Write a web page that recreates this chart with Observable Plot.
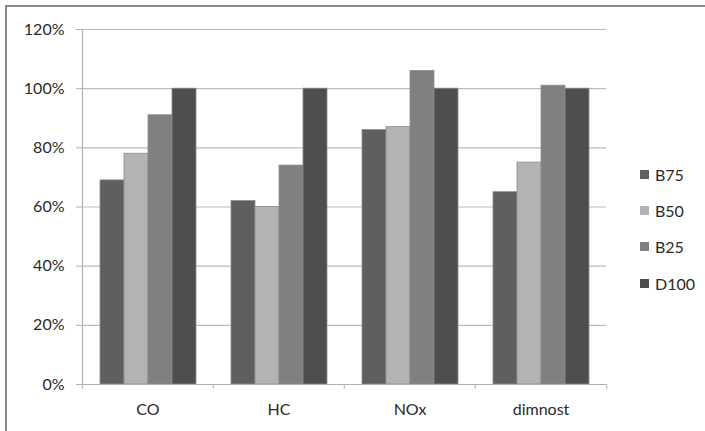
<!DOCTYPE html>
<html>
<head>
<meta charset="utf-8">
<script src="https://cdn.jsdelivr.net/npm/d3@7"></script>
<script src="https://cdn.jsdelivr.net/npm/@observablehq/plot@0.6"></script>
<style>
  html, body { margin: 0; padding: 0; background: #fff; }
  #wrap { position: relative; width: 705px; height: 431px; overflow: hidden; font-family: Lato, "Open Sans", sans-serif; }
  #border { position: absolute; left: 5px; top: 5px; width: 710px; height: 440px; border-top: 2px solid #8a8a8a; border-left: 2px solid #8a8a8a; box-sizing: border-box; pointer-events: none; z-index: 5; }
  #legend { position: absolute; left: 640px; top: 156px; }
  .row { display: flex; align-items: center; height: 36.3px; font-size: 16px; color: #2a2a2a; }
  .sw { width: 9px; height: 9px; margin-right: 6px; }
  svg { display: block; }
</style>
</head>
<body>
<div id="wrap">
  <div id="chart"></div>
  <div id="legend"></div>
  <div id="border"></div>
</div>
<script>
const categories = ["CO", "HC", "NOx", "dimnost"];
const seriesNames = ["B75", "B50", "B25", "D100"];
const B75 = [0.69, 0.62, 0.86, 0.65];
const B50 = [0.78, 0.60, 0.87, 0.75];
const B25 = [0.91, 0.74, 1.06, 1.01];
const D100 = [1.00, 1.00, 1.00, 1.00];
const yTicks = [0, 0.2, 0.4, 0.6, 0.8, 1.0, 1.2];
const colors = ["#5f5f5f", "#b3b3b3", "#808080", "#4e4e4e"];

const seriesValues = [B75, B50, B25, D100];
const data = [];
categories.forEach((c, i) => {
  seriesNames.forEach((s, j) => data.push({cat: c, series: s, value: seriesValues[j][i]}));
});

const W = 705, H = 431, mL = 81, mR = 98;
const band = (W - mL - mR) / categories.length;
const font = "Lato, 'Open Sans', sans-serif";

const chart = Plot.plot({
  width: W,
  height: H,
  marginLeft: mL,
  marginRight: mR,
  marginTop: 29,
  marginBottom: 47,
  style: {fontFamily: font, fontSize: "16px", color: "#2a2a2a", background: "transparent"},
  fx: {domain: categories, padding: 0, axis: null},
  x: {domain: seriesNames, paddingInner: 0, paddingOuter: 0.72, axis: null},
  y: {domain: [0, 1.2], axis: null},
  color: {domain: seriesNames, range: colors},
  marks: [
    Plot.gridY(yTicks, {stroke: "#bcbcbc", strokeOpacity: 1, strokeWidth: 1.2}),
    Plot.barY(data, {fx: "cat", x: "series", y: "value", fill: "series", stroke: "#8c8c8c", strokeWidth: 0.8, inset: 0}),
    Plot.ruleY([0], {stroke: "#b0b0b0", strokeWidth: 1.2}),
    Plot.frame({anchor: "left", facetAnchor: "left", stroke: "#b0b0b0", strokeWidth: 1.2}),
    Plot.axisY({ticks: yTicks, tickFormat: d3.format(".0%"), tickSize: 6, tickPadding: 12, stroke: "#b0b0b0", label: null, fontSize: 16}),
    Plot.axisFx({anchor: "bottom", tickSize: 0, tickPadding: 19, label: null, fontSize: 16}),
    Plot.axisFx({anchor: "bottom", tickSize: 5, text: null, label: null, dx: -band / 2, stroke: "#b0b0b0"}),
    Plot.axisFx({anchor: "bottom", ticks: [categories[categories.length - 1]], tickSize: 5, text: null, label: null, dx: band / 2, stroke: "#b0b0b0"})
  ]
});
document.getElementById("chart").appendChild(chart);

const legend = document.getElementById("legend");
seriesNames.forEach((s, j) => {
  const row = document.createElement("div");
  row.className = "row";
  const sw = document.createElement("div");
  sw.className = "sw";
  sw.style.background = colors[j];
  const t = document.createElement("span");
  t.textContent = s;
  row.appendChild(sw);
  row.appendChild(t);
  legend.appendChild(row);
});
</script>
</body>
</html>
